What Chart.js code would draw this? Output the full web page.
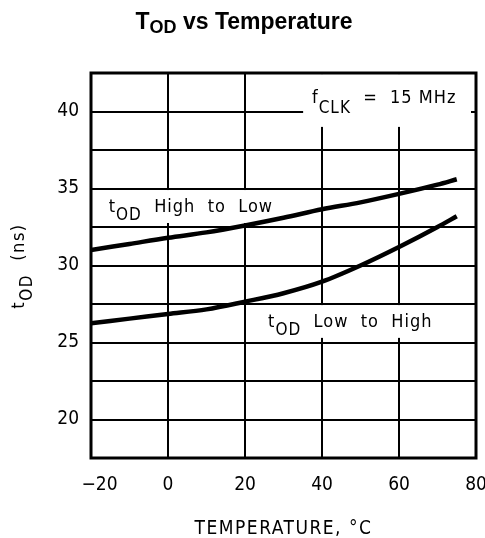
<!DOCTYPE html>
<html>
<head>
<meta charset="utf-8">
<script src="https://cdn.jsdelivr.net/npm/chart.js@4/dist/chart.umd.min.js"></script>
<style>
    html, body { margin: 0; padding: 0; background: #fff; }
</style>
</head>
<body>
<canvas id="todChart" width="485" height="538"></canvas>
<script>
// Data
const temperatures = [-20, -10, 0, 10, 20, 30, 40, 50, 60, 70, 75];
const highToLow = [31.0, 31.4, 31.8, 32.15, 32.6, 33.1, 33.65, 34.1, 34.65, 35.25, 35.6];
const lowToHigh = [26.25, 26.55, 26.85, 27.15, 27.65, 28.2, 28.95, 30.0, 31.2, 32.5, 33.2];
const xTickLabels = [-20, 0, 20, 40, 60, 80];
const yTickLabels = [20, 25, 30, 35, 40];

const plotFont = "'DejaVu Sans Condensed', 'Liberation Sans Narrow', 'DejaVu Sans', sans-serif";
const titleFont = "'Liberation Sans', Arial, sans-serif";

// draw a run of text pieces, some of them subscripted
function drawPieces(ctx, pieces, x, y, font, spacing) {
    let cx = x;
    ctx.letterSpacing = (spacing || 0) + 'px';
    pieces.forEach(p => {
        ctx.font = (p.weight || '') + ' ' + p.size + 'px ' + font;
        ctx.fillText(p.text, cx, y + (p.dy || 0));
        cx += ctx.measureText(p.text).width;
    });
    ctx.letterSpacing = '0px';
}
function piecesWidth(ctx, pieces, font, spacing) {
    let w = 0;
    ctx.letterSpacing = (spacing || 0) + 'px';
    pieces.forEach(p => {
        ctx.font = (p.weight || '') + ' ' + p.size + 'px ' + font;
        w += ctx.measureText(p.text).width;
    });
    ctx.letterSpacing = '0px';
    return w;
}

// labels inside the plot (white boxes break the grid like the original)
const notes = [
    { box: [-18.2, 29.6, 32.76, 34.9], at: [-15.4, 33.5],
      pieces: [{ text: 't', size: 18 }, { text: 'OD', size: 17, dy: 8 }, { text: '  High  to  Low', size: 18 }] },
    { box: [24.4, 68.6, 25.3, 27.43], at: [26.0, 26.0],
      pieces: [{ text: 't', size: 18 }, { text: 'OD', size: 17, dy: 8 }, { text: '  Low  to  High', size: 18 }] },
    { box: [35.1, 78.7, 39.0, 42.43], at: [37.4, 40.55],
      pieces: [{ text: 'f', size: 18 }, { text: 'CLK', size: 17, dy: 10 }, { text: '  =  15 MHz', size: 18 }] }
];

const decorPlugin = {
    id: 'decor',
    beforeDatasetsDraw(chart) {
        const ctx = chart.ctx;
        const xs = chart.scales.x, ys = chart.scales.y;
        ctx.save();
        notes.forEach(n => {
            const x1 = xs.getPixelForValue(n.box[0]), x2 = xs.getPixelForValue(n.box[1]);
            const y1 = ys.getPixelForValue(n.box[3]), y2 = ys.getPixelForValue(n.box[2]);
            ctx.fillStyle = '#fff';
            ctx.fillRect(x1, y1, x2 - x1, y2 - y1);
            ctx.fillStyle = '#000';
            ctx.textBaseline = 'alphabetic';
            ctx.textAlign = 'left';
            drawPieces(ctx, n.pieces, xs.getPixelForValue(n.at[0]), ys.getPixelForValue(n.at[1]), plotFont, 1);
        });
        // frame
        const a = chart.chartArea;
        ctx.strokeStyle = '#000';
        ctx.lineWidth = 3;
        ctx.strokeRect(a.left, a.top, a.right - a.left, a.bottom - a.top);
        ctx.restore();
    },
    afterDraw(chart) {
        const ctx = chart.ctx;
        const a = chart.chartArea;
        ctx.save();
        ctx.fillStyle = '#000';
        ctx.textBaseline = 'alphabetic';
        ctx.textAlign = 'left';

        // chart title
        const title = [
            { text: 'T', size: 23, weight: 'bold' },
            { text: 'OD', size: 18, weight: 'bold', dy: 4 },
            { text: ' vs Temperature', size: 23, weight: 'bold' }
        ];
        const tw = piecesWidth(ctx, title, titleFont);
        drawPieces(ctx, title, 244 - tw / 2, 29, titleFont);

        // x axis title
        ctx.font = '19px ' + plotFont;
        ctx.letterSpacing = '1.5px';
        ctx.textAlign = 'center';
        ctx.fillText('TEMPERATURE, °C', (a.left + a.right) / 2, 534);
        ctx.letterSpacing = '0px';

        // y axis title
        const yt = [{ text: 't', size: 18 }, { text: 'OD', size: 17, dy: 8 }, { text: '  (ns)', size: 18 }];
        ctx.textAlign = 'left';
        const yw = piecesWidth(ctx, yt, plotFont, 1.5);
        ctx.translate(18, 266);
        ctx.rotate(-Math.PI / 2);
        drawPieces(ctx, yt, -yw / 2, 6, plotFont, 1.5);
        ctx.restore();
    }
};

const ctx = document.getElementById('todChart').getContext('2d');

const todChart = new Chart(ctx, {
    type: 'line',
    data: {
        datasets: [
            {
                label: 'tOD High to Low',
                data: temperatures.map((t, i) => ({ x: t, y: highToLow[i] })),
                borderColor: '#000',
                borderWidth: 4.5,
                pointRadius: 0,
                cubicInterpolationMode: 'monotone',
                fill: false
            },
            {
                label: 'tOD Low to High',
                data: temperatures.map((t, i) => ({ x: t, y: lowToHigh[i] })),
                borderColor: '#000',
                borderWidth: 4.5,
                pointRadius: 0,
                cubicInterpolationMode: 'monotone',
                fill: false
            }
        ]
    },
    options: {
        responsive: false,
        animation: false,
        layout: {
            padding: { top: 73, right: 9, left: 0, bottom: 0 }
        },
        plugins: {
            legend: { display: false },
            tooltip: { enabled: false },
            title: { display: false }
        },
        scales: {
            x: {
                type: 'linear',
                min: -20,
                max: 80,
                grid: { color: '#000', lineWidth: 2, drawTicks: false },
                border: { display: false },
                afterFit: (scale) => {
                    scale.height = 80;
                    scale.paddingLeft = 0;
                    scale.paddingRight = 0;
                },
                ticks: {
                    stepSize: 20,
                    padding: 16,
                    color: '#000',
                    maxRotation: 0,
                    font: { family: plotFont, size: 19 },
                    // the original sets the minus sign ahead of a centred "20"
                    callback: (v) => xTickLabels.includes(v) ? (v < 0 ? '\u2003\u2212' + Math.abs(v) : String(v)) : ''
                }
            },
            y: {
                min: 17.5,
                max: 42.5,
                grid: { color: '#000', lineWidth: 2, drawTicks: false },
                border: { display: false },
                afterFit: (scale) => {
                    scale.width = 91;
                    scale.paddingTop = 0;
                    scale.paddingBottom = 0;
                },
                ticks: {
                    stepSize: 2.5,
                    padding: 12,
                    color: '#000',
                    font: { family: plotFont, size: 19 },
                    callback: (v) => yTickLabels.includes(v) ? String(v) : ''
                }
            }
        }
    },
    plugins: [decorPlugin]
});
</script>
</body>
</html>
